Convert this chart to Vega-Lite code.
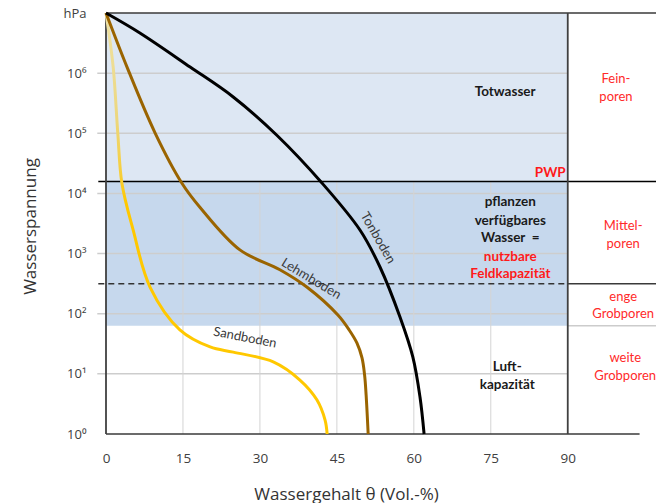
{
  "$schema": "https://vega.github.io/schema/vega-lite/v6.json",
  "width": 550,
  "height": 421,
  "autosize": {"type": "none"},
  "padding": {"left": 106, "top": 13, "right": 0, "bottom": 69},
  "background": "white",
  "config": {"font": "Lato", "view": {"stroke": null}},
  "encoding": {
    "x": {
      "field": "x", "type": "quantitative",
      "scale": {"domain": [0, 107.2], "nice": false, "zero": false},
      "axis": {
        "values": [0, 15, 30, 45, 60, 75, 90],
        "grid": false, "domain": false, "ticks": false, "labelFlush": false,
        "labelPadding": 17, "labelFontSize": 13.5, "labelColor": "#404040", "labelFont": "Open Sans",
        "title": "Wassergehalt θ (Vol.-%)", "titleFontSize": 17, "titleFontWeight": "normal", "titleFont": "Open Sans",
        "titleColor": "#333333", "titleX": 240, "titleY": 65, "titleAlign": "center", "titleBaseline": "alphabetic"
      }
    },
    "y": {
      "field": "y", "type": "quantitative",
      "scale": {"type": "log", "domain": [1, 10000000], "nice": false},
      "axis": {
        "values": [1, 10, 100, 1000, 10000, 100000, 1000000, 10000000],
        "labelExpr": "datum.value >= 9999999 ? 'hPa' : '10' + ['⁰','¹','²','³','⁴','⁵','⁶'][round(log(datum.value) / LN10)]",
        "grid": false, "domain": false, "ticks": false, "labelFlush": false,
        "labelPadding": 20, "labelFontSize": 13, "labelColor": "#404040", "labelFont": "Open Sans",
        "title": "Wasserspannung", "titleFontSize": 17, "titleFontWeight": "normal", "titleColor": "#333333", "titleFont": "Open Sans",
        "titleX": -76, "titleY": 213, "titleAngle": -90, "titleAlign": "center", "titleBaseline": "middle"
      }
    }
  },
  "layer": [
    {
      "description": "Totwasser band above the permanent wilting point",
      "data": {"values": [{"x": 0, "x2": 90, "y": 15849, "y2": 10000000}]},
      "mark": {"type": "rect", "color": "#dde7f3"},
      "encoding": {"x2": {"field": "x2"}, "y2": {"field": "y2"}}
    },
    {
      "description": "plant available water band, pF 1.8 to 4.2",
      "data": {"values": [{"x": 0, "x2": 90, "y": 63.1, "y2": 15849}]},
      "mark": {"type": "rect", "color": "#c6d8ed"},
      "encoding": {"x2": {"field": "x2"}, "y2": {"field": "y2"}}
    },
    {
      "description": "horizontal grid",
      "data": {"values": [
        {"x": -1.7, "x2": 90, "y": 10}, {"x": -1.7, "x2": 90, "y": 100}, {"x": -1.7, "x2": 90, "y": 1000},
        {"x": -1.7, "x2": 90, "y": 10000}, {"x": -1.7, "x2": 90, "y": 100000}, {"x": -1.7, "x2": 90, "y": 1000000}
      ]},
      "mark": {"type": "rule", "color": "#cdcdcd", "strokeWidth": 1.5},
      "encoding": {"x2": {"field": "x2"}}
    },
    {
      "description": "vertical grid below the wilting point",
      "data": {"values": [
        {"x": 15, "y": 1, "y2": 15849}, {"x": 30, "y": 1, "y2": 15849}, {"x": 45, "y": 1, "y2": 15849},
        {"x": 60, "y": 1, "y2": 15849}, {"x": 75, "y": 1, "y2": 15849}
      ]},
      "mark": {"type": "rule", "color": "#d4d4d4", "strokeWidth": 1},
      "encoding": {"y2": {"field": "y2"}}
    },
    {
      "description": "pore class divider pF 1.8",
      "data": {"values": [{"x": 90, "x2": 107.2, "y": 63.1}]},
      "mark": {"type": "rule", "color": "#cccccc", "strokeWidth": 1.5},
      "encoding": {"x2": {"field": "x2"}}
    },
    {
      "description": "frame lines",
      "data": {"values": [
        {"x": 0, "x2": 107.2, "y": 10000000},
        {"x": 0, "x2": 104, "y": 1},
        {"x": 90, "x2": 107.2, "y": 316}
      ]},
      "mark": {"type": "rule", "color": "#3a3a3a", "strokeWidth": 1.5},
      "encoding": {"x2": {"field": "x2"}}
    },
    {
      "description": "permanent wilting point (pF 4.2)",
      "data": {"values": [{"x": -1.5, "x2": 107.2, "y": 15849}]},
      "mark": {"type": "rule", "color": "#000000", "strokeWidth": 1.5},
      "encoding": {"x2": {"field": "x2"}}
    },
    {
      "description": "field capacity (pF 2.5)",
      "data": {"values": [{"x": -1.5, "x2": 90, "y": 316}]},
      "mark": {"type": "rule", "color": "#333333", "strokeWidth": 1.5, "strokeDash": [6, 4]},
      "encoding": {"x2": {"field": "x2"}}
    },
    {
      "description": "vertical frame lines",
      "data": {"values": [{"x": 0, "y": 1, "y2": 10000000}, {"x": 90, "y": 1, "y2": 10000000}]},
      "mark": {"type": "rule", "color": "#404040", "strokeWidth": 1.8},
      "encoding": {"y2": {"field": "y2"}}
    },
    {
      "description": "Sandboden",
      "data": {"values": [
        {"x": 0, "y": 10000000}, {"x": 1.4, "y": 1260000}, {"x": 2.3, "y": 100000}, {"x": 3.1, "y": 14800},
        {"x": 5.3, "y": 2450}, {"x": 8.6, "y": 275}, {"x": 14.4, "y": 54}, {"x": 20.3, "y": 28},
        {"x": 24.8, "y": 23}, {"x": 32.6, "y": 15.8}, {"x": 37.8, "y": 7.9}, {"x": 41.1, "y": 3.7},
        {"x": 42.7, "y": 1.7}, {"x": 43.1, "y": 1}
      ]},
      "mark": {
        "type": "line", "interpolate": "catmull-rom", "strokeWidth": 3,
        "stroke": {"gradient": "linear", "x1": 0, "y1": 0, "x2": 0, "y2": 1, "stops": [
          {"offset": 0, "color": "#efe2a6"}, {"offset": 0.25, "color": "#ecd77e"},
          {"offset": 0.38, "color": "#f6cf3c"}, {"offset": 0.45, "color": "#ffc800"}, {"offset": 1, "color": "#ffc800"}
        ]}
      }
    },
    {
      "description": "Lehmboden",
      "data": {"values": [
        {"x": 0, "y": 10000000}, {"x": 4.1, "y": 1260000}, {"x": 9.6, "y": 100000}, {"x": 14.8, "y": 14800},
        {"x": 18.3, "y": 5900}, {"x": 26.1, "y": 1150}, {"x": 33.9, "y": 537}, {"x": 39.2, "y": 275},
        {"x": 45.2, "y": 95}, {"x": 47.4, "y": 53.6}, {"x": 48.9, "y": 32.6}, {"x": 49.9, "y": 18.4},
        {"x": 50.4, "y": 9.6}, {"x": 50.7, "y": 4.45}, {"x": 51.1, "y": 1}
      ]},
      "mark": {"type": "line", "interpolate": "catmull-rom", "strokeWidth": 3, "color": "#9a6400"}
    },
    {
      "description": "Tonboden",
      "data": {"values": [
        {"x": 0, "y": 10000000}, {"x": 6.6, "y": 4660000}, {"x": 16.4, "y": 1265000}, {"x": 24.8, "y": 401800},
        {"x": 33.3, "y": 92900}, {"x": 42.1, "y": 14900}, {"x": 49.5, "y": 2466}, {"x": 53.4, "y": 598},
        {"x": 57.3, "y": 88}, {"x": 59.8, "y": 19.1}, {"x": 61.2, "y": 4.12}, {"x": 62.0, "y": 1}
      ]},
      "mark": {"type": "line", "interpolate": "catmull-rom", "strokeWidth": 3, "color": "#000000"}
    },
    {
      "data": {"values": [{"x": 53.0, "y": 1820, "label": "Tonboden"}]},
      "mark": {"type": "text", "angle": 60, "fontSize": 13, "color": "#3a3a3a", "baseline": "middle"},
      "encoding": {"text": {"field": "label"}}
    },
    {
      "data": {"values": [{"x": 40.0, "y": 380, "label": "Lehmboden"}]},
      "mark": {"type": "text", "angle": 31, "fontSize": 13, "color": "#3a3a3a", "baseline": "middle"},
      "encoding": {"text": {"field": "label"}}
    },
    {
      "data": {"values": [{"x": 27.1, "y": 40, "label": "Sandboden"}]},
      "mark": {"type": "text", "angle": 11, "fontSize": 13, "color": "#3a3a3a", "baseline": "middle"},
      "encoding": {"text": {"field": "label"}}
    },
    {
      "description": "water class labels",
      "data": {"values": [
        {"x": 77.8, "y": 490000, "label": "Totwasser"},
        {"x": 78.8, "y": 7240, "label": "pflanzen"},
        {"x": 78.8, "y": 3470, "label": "verfügbares"},
        {"x": 78.8, "y": 1820, "label": "Wasser\u00a0\u00a0="},
        {"x": 78.2, "y": 12.9, "label": "Luft-"},
        {"x": 78.2, "y": 6.5, "label": "kapazität"}
      ]},
      "mark": {"type": "text", "fontSize": 13.5, "fontWeight": "bold", "color": "#1a1a1a", "baseline": "middle"},
      "encoding": {"text": {"field": "label"}}
    },
    {
      "data": {"values": [
        {"x": 78.8, "y": 871, "label": "nutzbare"},
        {"x": 78.8, "y": 457, "label": "Feldkapazität"}
      ]},
      "mark": {"type": "text", "fontSize": 13.5, "fontWeight": "bold", "color": "#ff1a1a", "baseline": "middle"},
      "encoding": {"text": {"field": "label"}}
    },
    {
      "data": {"values": [{"x": 89.6, "y": 21900, "label": "PWP"}]},
      "mark": {"type": "text", "fontSize": 13.5, "fontWeight": "bold", "color": "#ff1a1a", "baseline": "middle", "align": "right"},
      "encoding": {"text": {"field": "label"}}
    },
    {
      "description": "pore size classes",
      "data": {"values": [
        {"x": 99.4, "y": 794000, "label": "Fein-"},
        {"x": 99.4, "y": 398000, "label": "poren"},
        {"x": 100.8, "y": 2880, "label": "Mittel-"},
        {"x": 100.8, "y": 1445, "label": "poren"},
        {"x": 100.8, "y": 190, "label": "enge"},
        {"x": 100.8, "y": 100, "label": "Grobporen"},
        {"x": 101.2, "y": 18.2, "label": "weite"},
        {"x": 101.2, "y": 9.2, "label": "Grobporen"}
      ]},
      "mark": {"type": "text", "fontSize": 13, "color": "#ff2a2a", "baseline": "middle"},
      "encoding": {"text": {"field": "label"}}
    }
  ]
}
